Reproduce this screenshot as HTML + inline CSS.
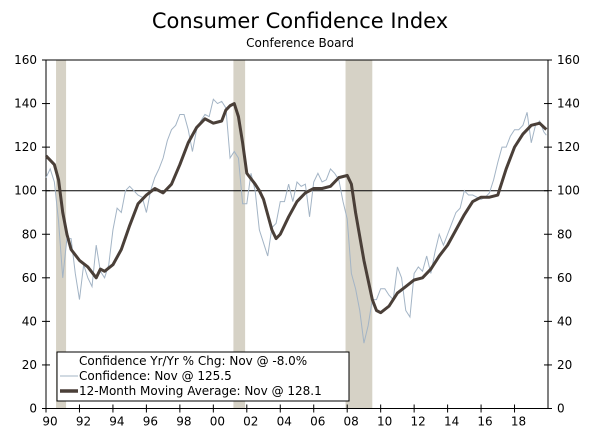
<!DOCTYPE html>
<html><head><meta charset="utf-8"><style>
body{margin:0;background:#fff;}
svg{display:block;font-family:"DejaVu Sans","Liberation Sans",sans-serif;}
</style></head><body>
<svg id="chart" width="600" height="442">
<text x="300" y="28" text-anchor="middle" font-size="21" fill="#000">Consumer Confidence Index</text>
<text x="300" y="47" text-anchor="middle" font-size="12" fill="#000">Conference Board</text>
<g id="rec"></g><g id="axes"></g><g id="series"></g>
<g>
<rect x="57" y="352" width="292" height="49" fill="#fff" stroke="#000" stroke-width="1"/>
<text x="79" y="365" font-size="12">Confidence Yr/Yr % Chg: Nov @ -8.0%</text>
<line x1="60" y1="376" x2="78" y2="376" stroke="#a3b4c5" stroke-width="1"/>
<text x="79" y="380" font-size="12">Confidence: Nov @ 125.5</text>
<line x1="60" y1="391" x2="78" y2="391" stroke="#4a3f38" stroke-width="3.5"/>
<text x="79" y="395" font-size="12">12-Month Moving Average: Nov @ 128.1</text>
</g>
</svg>
<script>
const recessions=[[1990.6,1991.2],[2001.2,2001.9],[2007.9,2009.5]];
const yTicks=[0,20,40,60,80,100,120,140,160];
const xLabels=["90","92","94","96","98","00","02","04","06","08","10","12","14","16","18"];
const confYears=[1990,1990.25,1990.5,1990.75,1991,1991.25,1991.5,1991.75,1992,1992.25,1992.5,1992.75,1993,1993.25,1993.5,1993.75,1994,1994.25,1994.5,1994.75,1995,1995.25,1995.5,1995.75,1996,1996.25,1996.5,1996.75,1997,1997.25,1997.5,1997.75,1998,1998.25,1998.5,1998.75,1999,1999.25,1999.5,1999.75,2000,2000.25,2000.5,2000.75,2001,2001.25,2001.5,2001.75,2002,2002.25,2002.5,2002.75,2003,2003.25,2003.5,2003.75,2004,2004.25,2004.5,2004.75,2005,2005.25,2005.5,2005.75,2006,2006.25,2006.5,2006.75,2007,2007.25,2007.5,2007.75,2008,2008.25,2008.5,2008.75,2009,2009.25,2009.5,2009.75,2010,2010.25,2010.5,2010.75,2011,2011.25,2011.5,2011.75,2012,2012.25,2012.5,2012.75,2013,2013.25,2013.5,2013.75,2014,2014.25,2014.5,2014.75,2015,2015.25,2015.5,2015.75,2016,2016.25,2016.5,2016.75,2017,2017.25,2017.5,2017.75,2018,2018.25,2018.5,2018.75,2019,2019.25,2019.5,2019.75,2019.9];
const confValues=[106,110,104,86,60,78,78,62,50,66,60,56,75,63,60,66,82,92,90,100,102,100,98,97,90,100,106,110,115,123,128,130,135,135,128,118,128,132,135,134,142,140,141,138,115,118,115,94,94,108,100,82,76,70,83,85,95,95,103,95,104,102,103,88,104,108,104,105,110,108,105,95,87,62,55,45,30,38,50,50,55,55,52,50,65,60,45,42,62,65,63,70,62,72,80,75,80,85,90,92,100,98,98,97,96,97,99,105,113,120,120,125,128,128,130,136,122,130,132,127,125.5];
const maYears=[1990,1990.5,1990.75,1991,1991.25,1991.5,1992,1992.5,1993,1993.25,1993.5,1994,1994.5,1995,1995.5,1996,1996.5,1997,1997.5,1998,1998.5,1999,1999.5,2000,2000.5,2000.75,2001,2001.25,2001.5,2001.75,2002,2002.5,2002.75,2003,2003.5,2003.75,2004,2004.5,2005,2005.5,2006,2006.5,2007,2007.5,2008,2008.25,2008.5,2009,2009.5,2009.75,2010,2010.5,2011,2011.5,2012,2012.5,2013,2013.5,2014,2014.5,2015,2015.5,2016,2016.5,2017,2017.5,2018,2018.5,2019,2019.5,2019.9];
const maValues=[116,112,105,90,80,73,68,65,60,64,63,66,73,84,94,98,101,99,103,112,122,129,133,131,132,137,139,140,134,122,108,103,100,96,82,78,80,88,95,99,101,101,102,106,107,103,90,68,50,45,44,47,53,56,59,60,64,70,75,82,89,95,97,97,98,110,120,126,130,131,128.1];

const L=46,R=548,T=60,B=408.5;
const x=v=>L+(v-1990)*(R-L)/30;
const y=v=>B-v*(B-T)/160;
const NS="http://www.w3.org/2000/svg";
function mk(tag,attrs,parent){const e=document.createElementNS(NS,tag);for(const k in attrs)e.setAttribute(k,attrs[k]);parent.appendChild(e);return e;}
const rec=document.getElementById('rec'),ax=document.getElementById('axes'),se=document.getElementById('series');
recessions.forEach(r=>{
 const e=mk('rect',{x:x(r[0]),y:T,width:x(r[1])-x(r[0]),height:B-T,fill:'#d6d2c6'},rec);
 
 
});
mk('line',{x1:L,y1:T,x2:R,y2:T,stroke:'#000','stroke-width':1},ax);
mk('line',{x1:L,y1:T,x2:L,y2:B,stroke:'#000','stroke-width':1},ax);
mk('line',{x1:R,y1:T,x2:R,y2:B,stroke:'#000','stroke-width':1},ax);
mk('line',{x1:L,y1:B,x2:R,y2:B,stroke:'#000','stroke-width':1},ax);
const ref=mk('line',{x1:L,y1:y(100),x2:R,y2:y(100),stroke:'#000','stroke-width':1},ax);


yTicks.forEach(t=>{
 const yy=y(t);
 mk('line',{x1:L-4,y1:yy,x2:L+4,y2:yy,stroke:'#000'},ax);
 mk('line',{x1:R-4,y1:yy,x2:R+4,y2:yy,stroke:'#000'},ax);
 const a=mk('text',{x:L-9,y:yy+4,'text-anchor':'end','font-size':12},ax);a.textContent=t;
 
 
 const b=mk('text',{x:R+9,y:yy+4,'text-anchor':'start','font-size':12},ax);b.textContent=t;
 
 
});
xLabels.forEach((l,i)=>{
 const xx=x(1990+2*i);
 mk('line',{x1:xx,y1:B-4,x2:xx,y2:B+4,stroke:'#000'},ax);
 const t=mk('text',{x:xx+4,y:B+17,'text-anchor':'middle','font-size':12},ax);t.textContent=l;
 
 
});
const cp=mk('polyline',{points:confYears.map((v,i)=>x(v)+','+y(confValues[i])).join(' '),fill:'none',stroke:'#a3b4c5','stroke-width':1},se);


const mp=mk('polyline',{points:maYears.map((v,i)=>x(v)+','+y(maValues[i])).join(' '),fill:'none',stroke:'#4a3f38','stroke-width':3,'stroke-linejoin':'round'},se);


</script>
</body></html>
